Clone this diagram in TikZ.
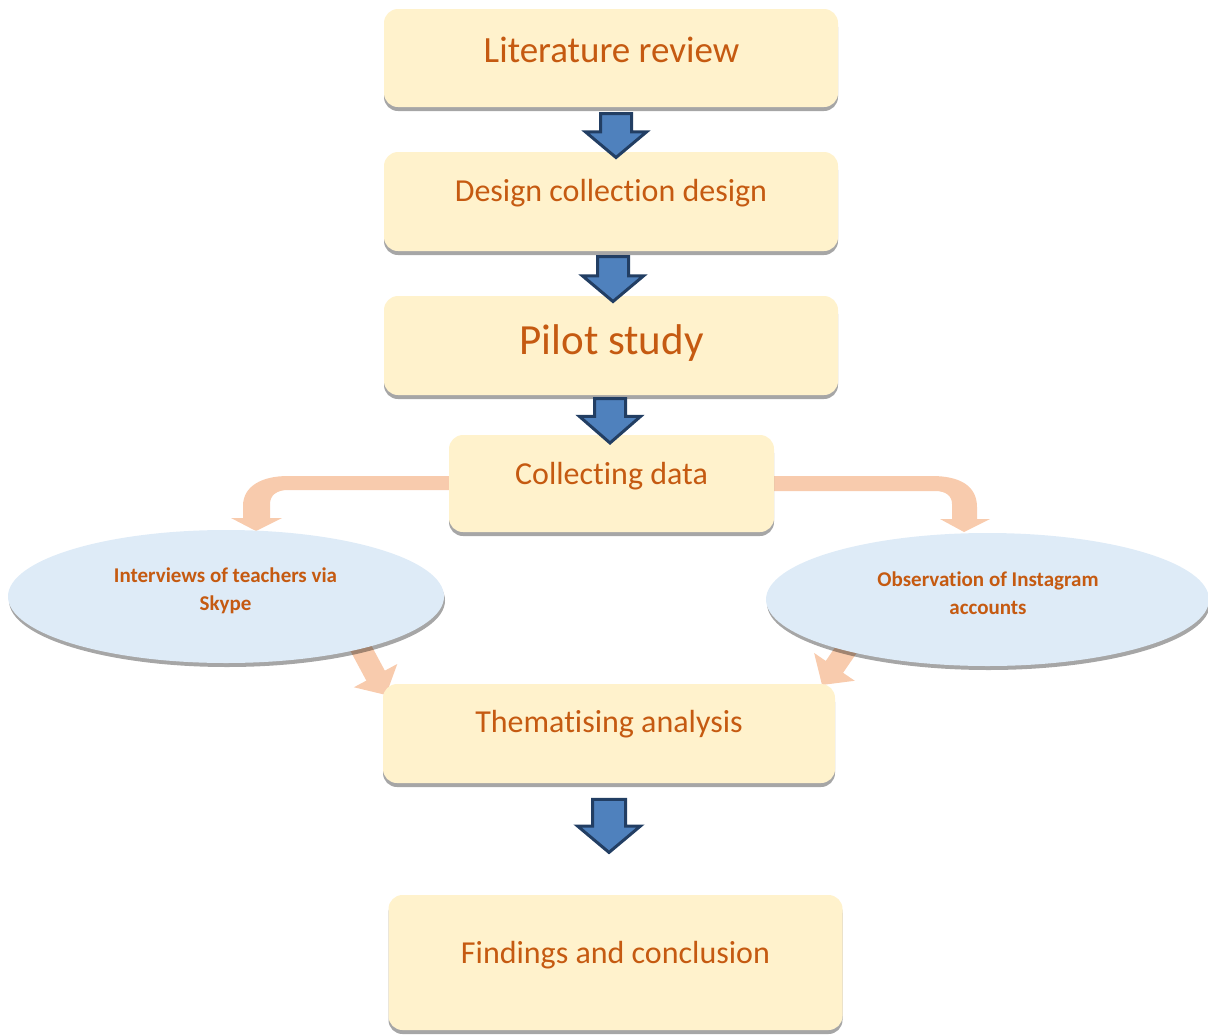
\documentclass[tikz,border=0pt]{standalone}
\usepackage{fontspec}
\setmainfont{Carlito}[Ligatures={NoCommon,NoRequired,NoContextual}]
\usetikzlibrary{shapes.geometric,shapes.arrows,shadows,backgrounds,calc,arrows.meta}
\definecolor{boxfill}{HTML}{FFF2CC}
\definecolor{txtc}{HTML}{C55A11}
\definecolor{ellfill}{HTML}{DEEBF7}
\definecolor{peach}{HTML}{F8CBAD}
\definecolor{bluef}{HTML}{4F81BD}
\definecolor{bluel}{HTML}{223E63}
\begin{document}
\begin{tikzpicture}[x=1pt,y=-1pt,
  box/.style={rectangle, rounded corners=14pt, fill=boxfill, draw=none, inner sep=0pt, outer sep=0pt,
    general shadow={fill=black, opacity=0.35, shadow yshift=-4pt}},
  ell/.style={ellipse, fill=ellfill, draw=none, inner sep=0pt, outer sep=0pt,
    general shadow={fill=black, opacity=0.35, shadow yshift=-4pt, shadow xshift=1pt}},
  barrow/.style={single arrow, shape border rotate=270, fill=bluef, draw=bluel, line width=3pt,
    single arrow head extend=15pt, single arrow tip angle=100,
    inner sep=14pt, outer sep=0pt},
  txt/.style={text=txtc, anchor=base, inner sep=0pt},
  etxt/.style={text=txtc, align=center, inner sep=0pt, font=\bfseries\fontsize{21}{28}\selectfont},
  parrow/.style={draw=peach, line width=21pt, -{Triangle[width=48pt,length=22pt]}},
  fA/.style={font=\fontsize{37}{44}\selectfont},
  fB/.style={font=\fontsize{32}{38}\selectfont},
  fC/.style={font=\fontsize{43}{50}\selectfont}
]
\useasboundingbox (0,0) rectangle (1208,1034);

% boxes
\node[box, minimum width=454pt, minimum height=98pt] (b1) at (611,58) {};
\node[box, minimum width=454pt, minimum height=99pt] (b2) at (611,201.5) {};
\node[box, minimum width=454pt, minimum height=99pt] (b3) at (611,345.5) {};
\node[box, minimum width=325pt, minimum height=97pt] (b4) at (611.5,483.5) {};
\node[box, minimum width=452pt, minimum height=99pt] (b5) at (609,733.5) {};
\node[box, minimum width=454pt, minimum height=135pt] (b6) at (615.5,962.5) {};

% ellipses
\node[ell, minimum width=436pt, minimum height=133pt] (e1) at (226,596.5) {};
\node[ell, minimum width=443pt, minimum height=133pt] (e2) at (987.5,599.5) {};

% texts
\node[txt, fA] (t1) at (611.5,62) {Literature review};
\node[txt, fB] (t2) at (611,201) {Design collection design};
\node[txt, fC] (t3) at (611.5,354) {Pilot study};
\node[txt, fB] (t4) at (611.5,484) {Collecting data};
\node[txt, fB] (t5) at (609,732) {Thematising analysis};
\node[txt, fB] (t6) at (615.5,963) {Findings and conclusion};
\node[etxt] (t7) at (225.5,591) {Interviews of teachers via\\Skype};
\node[etxt] (t8) at (988,593) {Observation of Instagram\\accounts};

% blue block arrows
\node[barrow, minimum height=44pt] (a1) at (616,129) {};
\node[barrow, minimum height=45pt] (a2) at (613,272.5) {};
\node[barrow, minimum height=40pt, single arrow tip angle=98] (a3) at (610,414) {};
\node[barrow, minimum height=53pt, inner sep=15pt] (a4) at (609,819) {};

% peach arrows
\coordinate (d1s) at (335,600);
\coordinate (d1t) at (386,695);
\coordinate (d2s) at (872,612);
\coordinate (d2t) at (822,685);
\begin{pgfonlayer}{background}
\fill[peach] ($(b4.west)+(10,-7.5)$) -- (288,476) .. controls (262,476) and (243,486) .. (243,506)
  -- (243,518) -- (231,518) -- (256,531) -- (282,518) -- (270,518) -- (270,504)
  .. controls (270,495) and (277,490) .. (288,490) -- ($(b4.west)+(10,6.5)$) -- cycle;
\fill[peach] ($(b4.east)+(-10,-7.5)$) -- (932,476) .. controls (960,476) and (977,486) .. (977,507)
  -- (977,519) -- (990,519) -- (964,532) -- (940,519) -- (952,519) -- (952,504)
  .. controls (952,496) and (946,491) .. (935,491) -- ($(b4.east)+(-10,7.5)$) -- cycle;
\draw[parrow] (d1s) -- (d1t);
\draw[parrow] (d2s) -- (d2t);
\end{pgfonlayer}
\end{tikzpicture}
\end{document}
